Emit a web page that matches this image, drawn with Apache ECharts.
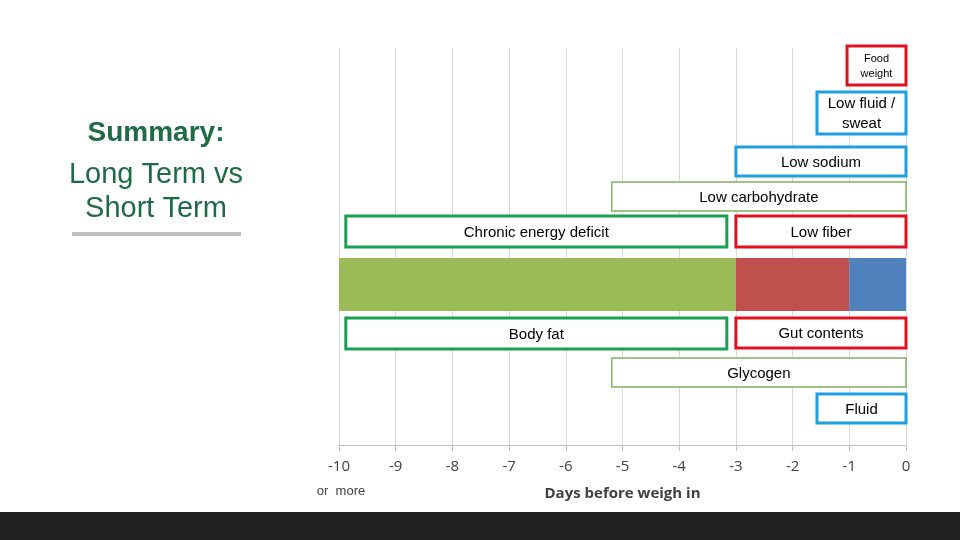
<!DOCTYPE html>
<html><head><meta charset="utf-8">
<script src="https://cdn.jsdelivr.net/npm/echarts@6/dist/echarts.min.js"></script>
<style>html,body{margin:0;padding:0;background:#fff}#c{width:960px;height:540px}</style>
</head><body><div id="c"></div>
<script>
const xTicks = [-10,-9,-8,-7,-6,-5,-4,-3,-2,-1,0];
// stacked bar segments: [start, end, colour name]
const barSegments = [[-10,-3,'green'],[-3,-1,'red'],[-1,0,'blue']];
// label boxes: [xStart, xEnd, yTop, yBottom, text, borderKind]
const boxes = [
  [-1.04,0,399,360,'Food\nweight','red'],
  [-1.57,0,353,311,'Low fluid /\nsweat','blue'],
  [-3.0,0,298,269,'Low sodium','blue'],
  [-5.19,0,263,234,'Low carbohydrate','light'],
  [-9.88,-3.16,229,198,'Chronic energy deficit','green'],
  [-3.0,0,229,198,'Low fiber','red'],
  [-9.88,-3.16,127,96,'Body fat','green'],
  [-3.0,0,127,97,'Gut contents','red'],
  [-5.19,0,87,58,'Glycogen','light'],
  [-1.57,0,51,22,'Fluid','blue']
];
const barY = [187,134];
const fill = {green:'#9bbb59',red:'#c0504d',blue:'#4f81bd'};
const border = {red:['#e01020',3],blue:['#1ea0e0',3],green:['#1aa050',3],light:['#80b060',1.5]};

const chart = echarts.init(document.getElementById('c'));
chart.setOption({
  animation:false,
  grid:{left:339,right:54,top:48,bottom:95},
  xAxis:{type:'value',min:-10,max:0,interval:1,
    axisLine:{lineStyle:{color:'#bfbfbf'}},axisTick:{show:true,length:6,lineStyle:{color:'#bfbfbf'}},
    axisLabel:{color:'#404040',fontSize:15,margin:14,fontFamily:'Open Sans'},
    splitLine:{show:true,lineStyle:{color:'#d9d9d9'}},
    name:'Days before weigh in',nameLocation:'middle',nameGap:41,
    nameTextStyle:{fontWeight:'bold',fontSize:15,color:'#404040',fontFamily:'Open Sans'}},
  yAxis:{type:'value',min:0,max:397,show:false},
  graphic:[
    {type:'text',style:{text:'Summary:',x:156,y:133,align:'center',verticalAlign:'middle',font:'bold 28px "Liberation Sans"',fill:'#1e6b45'}},
    {type:'text',style:{text:'Long Term vs',x:156,y:175,align:'center',verticalAlign:'middle',font:'29px "Liberation Sans"',fill:'#1e6b45'}},
    {type:'text',style:{text:'Short Term',x:156,y:209,align:'center',verticalAlign:'middle',font:'29px "Liberation Sans"',fill:'#1e6b45'}},
    {type:'rect',shape:{x:72,y:232,width:169,height:4},style:{fill:'#bfbfbf'}},
    {type:'text',style:{text:'or  more',x:341,y:491,align:'center',verticalAlign:'middle',font:'13px "Liberation Sans"',fill:'#404040'}},
    {type:'rect',shape:{x:0,y:512,width:960,height:28},style:{fill:'#222222'}}
  ],
  series:[
    {type:'custom',data:barSegments,renderItem:(p,api)=>{
      const s=barSegments[p.dataIndex];
      const a=api.coord([s[0],barY[0]]),b=api.coord([s[1],barY[1]]);
      return {type:'rect',shape:{x:a[0],y:a[1],width:b[0]-a[0],height:b[1]-a[1]},style:{fill:fill[s[2]]}};
    }},
    {type:'custom',data:boxes,renderItem:(p,api)=>{
      const s=boxes[p.dataIndex];
      const a=api.coord([s[0],s[2]]),b=api.coord([s[1],s[3]]);
      const bd=border[s[5]];
      const small=s[4]==='Food\nweight';
      return {type:'group',children:[
        {type:'rect',shape:{x:a[0],y:a[1],width:b[0]-a[0],height:b[1]-a[1]},style:{fill:'#fff',stroke:bd[0],lineWidth:bd[1]}},
        {type:'text',style:{text:s[4],x:(a[0]+b[0])/2,y:(a[1]+b[1])/2+1,align:'center',verticalAlign:'middle',
          font:(small?'11px':'15px')+' "Liberation Sans"',lineHeight:small?15:20,fill:'#000'}}
      ]};
    }}
  ]
});
</script></body></html>
